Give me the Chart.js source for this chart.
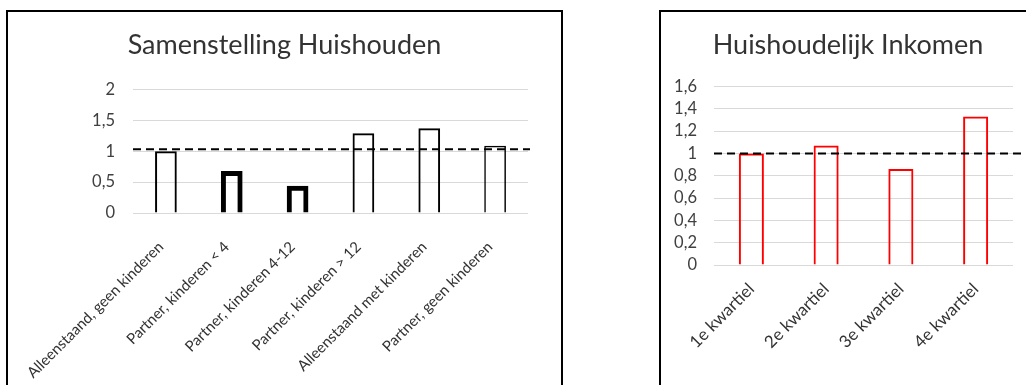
<!DOCTYPE html>
<html>
<head>
<meta charset="utf-8">
<script src="https://cdn.jsdelivr.net/npm/chart.js@4/dist/chart.umd.min.js"></script>
<style>
  body { margin: 0; background: #fff; overflow: hidden; width: 1026px; height: 385px; position: relative; }
  .box { position: absolute; top: 10px; border: 2px solid #000; background: #fff; }
  #boxLeft { left: 6px; }
  #boxRight { left: 659px; }
  canvas { display: block; }
</style>
</head>
<body>
<div class="box" id="boxLeft"><canvas id="leftChart" width="553" height="380"></canvas></div>
<div class="box" id="boxRight"><canvas id="rightChart" width="374" height="380"></canvas></div>
<script>
// data - household composition
const huishoudenLabels = ['Alleenstaand, geen kinderen', 'Partner, kinderen < 4', 'Partner, kinderen 4-12',
    'Partner, kinderen > 12', 'Alleenstaand met kinderen', 'Partner, geen kinderen'];
const huishoudenValues = [1.0, 0.68, 0.44, 1.29, 1.37, 1.09];
const huishoudenRef = 1.03;
const huishoudenTicks = ['0', '0,5', '1', '1,5', '2'];

// data - household income
const inkomenLabels = ['1e kwartiel', '2e kwartiel', '3e kwartiel', '4e kwartiel'];
const inkomenValues = [1.0, 1.07, 0.86, 1.33];
const inkomenRef = 1.0;
const inkomenTicks = ['0', '0,2', '0,4', '0,6', '0,8', '1', '1,2', '1,4', '1,6'];

Chart.defaults.font.family = 'Lato, "Open Sans", sans-serif';
Chart.defaults.color = '#595959';

// draws the dashed reference line across the plot
const refLinePlugin = {
    id: 'refLine',
    afterDatasetsDraw(chart, args, opts) {
        const y = chart.scales.y.getPixelForValue(opts.value);
        const ctx = chart.ctx;
        ctx.save();
        ctx.strokeStyle = '#000';
        ctx.lineWidth = 2;
        ctx.setLineDash([8, 5]);
        ctx.beginPath();
        ctx.moveTo(chart.chartArea.left, y);
        ctx.lineTo(chart.chartArea.right + opts.extend, y);
        ctx.stroke();
        ctx.restore();
    }
};

function makeChart(id, labels, values, tickLabels, opts) {
    return new Chart(document.getElementById(id), {
        type: 'bar',
        data: {
            labels: labels,
            datasets: [{
                data: values,
                yAxisID: 'y',
                backgroundColor: 'rgba(255,255,255,0)',
                borderColor: opts.color,
                borderWidth: opts.borderWidths,
                borderSkipped: 'start',
                categoryPercentage: 1,
                barPercentage: opts.barPct,
            }],
        },
        options: {
            responsive: false,
            animation: false,
            devicePixelRatio: 1,
            layout: { padding: 0 },
            plugins: {
                legend: { display: false },
                tooltip: { enabled: false },
                title: {
                    display: true,
                    text: opts.title,
                    color: '#333',
                    font: { size: 27, weight: 'normal' },
                    padding: { top: 17, bottom: opts.titleBottom },
                },
                refLine: { value: opts.refValue, extend: opts.extend },
            },
            scales: {
                x: {
                    grid: { display: false, drawTicks: false },
                    border: { display: false },
                    ticks: {
                        autoSkip: false,
                        minRotation: 45,
                        maxRotation: 45,
                        padding: opts.xPad,
                        labelOffset: opts.xOffset,
                        font: { size: opts.xFont },
                        color: '#333',
                    },
                    afterFit: (scale) => {
                        scale.height = opts.xHeight;
                        scale.paddingLeft = 0;
                        scale.paddingRight = 0;
                    },
                },
                y: {
                    min: 0,
                    max: opts.max,
                    grid: { color: '#d9d9d9', lineWidth: 1, drawTicks: false },
                    border: { display: false },
                    ticks: {
                        autoSkip: false,
                        stepSize: opts.step,
                        padding: opts.yPad,
                        font: { size: 16.5 },
                        color: '#404040',
                        callback: (v, i) => tickLabels[i],
                    },
                    afterFit: (scale) => {
                        scale.width = opts.yWidth;
                        scale.paddingTop = 0;
                        scale.paddingBottom = 0;
                    },
                },
                // empty axis on the right, only to keep white space there
                // (layout padding would pull the title off centre)
                yRight: {
                    type: 'linear',
                    position: 'right',
                    grid: { display: false, drawTicks: false },
                    border: { display: false },
                    ticks: { display: false },
                    afterFit: (scale) => { scale.width = opts.rightSpace; },
                },
            },
        },
        plugins: [refLinePlugin],
    });
}

makeChart('leftChart', huishoudenLabels, huishoudenValues, huishoudenTicks, {
    title: 'Samenstelling Huishouden',
    color: '#000',
    borderWidths: [2, 5, 5, 2, 2, 1.5],
    barPct: 0.33,
    rightSpace: 33,
    titleBottom: 28,
    xPad: 25,
    xOffset: -5,
    xFont: 15,
    xHeight: 179,
    yPad: 18,
    yWidth: 125,
    max: 2,
    step: 0.5,
    refValue: huishoudenRef,
    extend: 2,
});

makeChart('rightChart', inkomenLabels, inkomenValues, inkomenTicks, {
    title: 'Huishoudelijk Inkomen',
    color: '#ff0000',
    borderWidths: 2,
    barPct: 0.335,
    rightSpace: 22,
    titleBottom: 25,
    xPad: 14,
    xOffset: 0,
    xFont: 17,
    xHeight: 127,
    yPad: 17,
    yWidth: 53,
    max: 1.6,
    step: 0.2,
    refValue: inkomenRef,
    extend: 20,
});
</script>
</body>
</html>
